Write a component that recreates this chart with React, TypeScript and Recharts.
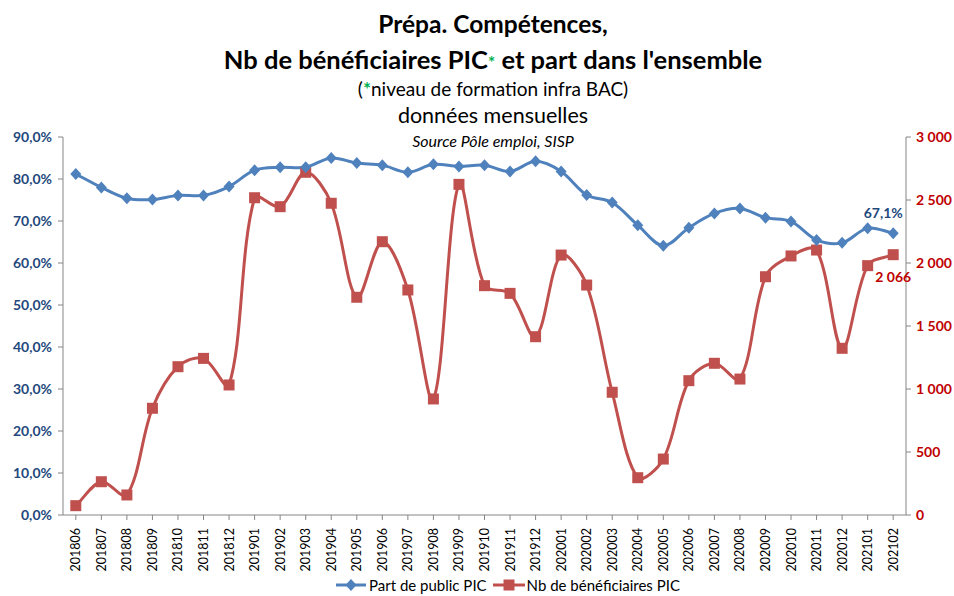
import React from "react";
import { LineChart, Line, XAxis, YAxis } from "recharts";

const months = [
  "201806", "201807", "201808", "201809", "201810", "201811", "201812",
  "201901", "201902", "201903", "201904", "201905", "201906", "201907", "201908", "201909", "201910", "201911", "201912",
  "202001", "202002", "202003", "202004", "202005", "202006", "202007", "202008", "202009", "202010", "202011", "202012",
  "202101", "202102",
];

// part de public PIC, en %
const partPublic = [
  81.2, 78.0, 75.4, 75.1, 76.1, 76.1, 78.2,
  82.1, 82.8, 82.8, 85.0, 83.8, 83.3, 81.6, 83.5, 83.0, 83.3, 81.8, 84.2,
  81.8, 76.2, 74.4, 69.0, 64.1, 68.4, 71.8, 73.0, 70.8, 69.9, 65.5, 64.8,
  68.3, 67.1,
];

// nb de bénéficiaires PIC
const nbBenef = [
  74, 264, 159, 847, 1177, 1243, 1032,
  2518, 2447, 2720, 2474, 1728, 2169, 1786, 921, 2624, 1820, 1759, 1415,
  2063, 1825, 974, 296, 444, 1066, 1204, 1079, 1891, 2056, 2103, 1323,
  1979, 2066,
];

const leftTicks = [0, 0.1, 0.2, 0.3, 0.4, 0.5, 0.6, 0.7, 0.8, 0.9];
const rightTicks = [0, 500, 1000, 1500, 2000, 2500, 3000];

const data = months.map((m, i) => ({ month: m, part: partPublic[i] / 100, nb: nbBenef[i] }));

const BLUE = "#4F81BD";
const RED = "#C0504D";
const FONT = "Lato, 'Noto Sans', sans-serif";

// lissage façon Excel : bezier, tangentes pondérées par la longueur des segments
const excelSmooth = (context: any) => {
  let pts: number[][] = [];
  const dist = (a: number[], b: number[]) => Math.hypot(b[0] - a[0], b[1] - a[1]);
  return {
    areaStart() {},
    areaEnd() {},
    lineStart() {
      pts = [];
    },
    point(x: number, y: number) {
      pts.push([+x, +y]);
    },
    lineEnd() {
      if (!pts.length) return;
      context.moveTo(pts[0][0], pts[0][1]);
      for (let i = 0; i < pts.length - 1; i++) {
        const p0 = pts[Math.max(i - 1, 0)];
        const p1 = pts[i];
        const p2 = pts[i + 1];
        const p3 = pts[Math.min(i + 2, pts.length - 1)];
        const d01 = dist(p0, p1);
        const d12 = dist(p1, p2);
        const d23 = dist(p2, p3);
        const f1 = d01 + d12 > 0 ? d12 / (d01 + d12) / 3 : 0;
        const f2 = d12 + d23 > 0 ? d12 / (d12 + d23) / 3 : 0;
        context.bezierCurveTo(
          p1[0] + (p2[0] - p0[0]) * f1,
          p1[1] + (p2[1] - p0[1]) * f1,
          p2[0] - (p3[0] - p1[0]) * f2,
          p2[1] - (p3[1] - p1[1]) * f2,
          p2[0],
          p2[1]
        );
      }
    },
  };
};

const fmtPct = (v: number) => (v * 100).toFixed(1).replace(".", ",") + "%";
const fmtNb = (v: number) => String(v).replace(/\B(?=(\d{3})+(?!\d))/g, " ");

const Diamond = (props: any) => {
  const { cx, cy, index } = props;
  if (cx == null || cy == null) return null;
  return (
    <polygon
      key={`d-${index}`}
      points={`${cx},${cy - 6} ${cx + 5.5},${cy} ${cx},${cy + 6} ${cx - 5.5},${cy}`}
      fill={BLUE}
    />
  );
};

const Square = (props: any) => {
  const { cx, cy, index } = props;
  if (cx == null || cy == null) return null;
  return <rect key={`s-${index}`} x={cx - 5.5} y={cy - 5.5} width={11} height={11} fill={RED} />;
};

const MonthTick = (props: any) => {
  const { x, y, payload } = props;
  return (
    <g transform={`translate(${x},${y})`}>
      <text x={-6} y={0} dy={4.5} textAnchor="end" transform="rotate(-90)" fontSize={12.5} fill="#000" fontFamily={FONT}>
        {payload.value}
      </text>
    </g>
  );
};

const lastIdx = months.length - 1;

const partLabel = (props: any) => {
  const { x, y, index } = props;
  if (index !== lastIdx) return null;
  return (
    <text key="lp" x={x - 10} y={y - 15} textAnchor="middle" fontSize={14} fontWeight="bold" fill="#1F497D" fontFamily={FONT}>
      {fmtPct(partPublic[index] / 100)}
    </text>
  );
};

const nbLabel = (props: any) => {
  const { x, y, index } = props;
  if (index !== lastIdx) return null;
  return (
    <text key="ln" x={x} y={y + 27} textAnchor="middle" fontSize={14} fontWeight="bold" fill="#C00000" fontFamily={FONT}>
      {fmtNb(nbBenef[index])}
    </text>
  );
};

const titleLine = (text: React.ReactNode, top: number, size: number, extra: any = {}) => (
  <div
    style={{
      position: "absolute",
      left: 0,
      width: 986,
      top,
      textAlign: "center",
      whiteSpace: "nowrap",
      fontSize: size,
      lineHeight: `${size + 4}px`,
      color: "#000",
      fontFamily: FONT,
      ...extra,
    }}
  >
    {text}
  </div>
);

export default function App() {
  return (
    <div style={{ position: "absolute", left: 0, top: 0, width: 954, height: 596, background: "#fff", overflow: "hidden" }}>
      {titleLine("Prépa. Compétences,", 10, 24.5, { fontWeight: "bold" })}
      {titleLine(<>Nb de bénéficiaires PIC<span style={{ color: "#00B050", fontSize: 17 }}>*</span> et part dans l'ensemble</>, 45, 25.5, { fontWeight: "bold" })}
      {titleLine(<>(<span style={{ color: "#00B050", fontWeight: "bold" }}>*</span>niveau de formation infra BAC)</>, 77, 19)}
      {titleLine("données mensuelles", 103, 21.5)}
      {titleLine("Source Pôle emploi, SISP", 131, 16, { fontStyle: "italic" })}

      <div style={{ position: "absolute", left: 0, top: 0 }}>
        <LineChart width={954} height={596} data={data} margin={{ top: 137, right: 0, left: 0, bottom: 19 }}>
          <XAxis
            dataKey="month"
            interval={0}
            height={62}
            padding={{ left: 12.8, right: 12.8 }}
            tick={<MonthTick />}
            stroke="#868686"
            tickSize={5}
          />
          <YAxis
            yAxisId="left"
            domain={[0, 0.9]}
            ticks={leftTicks}
            width={63}
            tickFormatter={fmtPct}
            stroke="#868686"
            tickSize={5}
            tickMargin={6}
            tick={{ fill: "#1F497D", fontSize: 14, fontWeight: "bold", fontFamily: FONT }}
          />
          <YAxis
            yAxisId="right"
            orientation="right"
            domain={[0, 3000]}
            ticks={rightTicks}
            width={48}
            tickFormatter={fmtNb}
            stroke="#868686"
            tickSize={5}
            tickMargin={5}
            tick={{ fill: "#C00000", fontSize: 14, fontWeight: "bold", fontFamily: FONT, textAnchor: "start" }}
          />
          <Line
            yAxisId="right"
            dataKey="nb"
            type={excelSmooth as any}
            stroke={RED}
            strokeWidth={3}
            dot={<Square />}
            activeDot={false}
            label={nbLabel}
            isAnimationActive={false}
          />
          <Line
            yAxisId="left"
            dataKey="part"
            type={excelSmooth as any}
            stroke={BLUE}
            strokeWidth={3}
            dot={<Diamond />}
            activeDot={false}
            label={partLabel}
            isAnimationActive={false}
          />
        </LineChart>
      </div>

      <div
        style={{
          position: "absolute",
          left: 336,
          top: 576,
          display: "flex",
          alignItems: "center",
          fontSize: 15,
          lineHeight: "18px",
          fontFamily: FONT,
          color: "#000",
          whiteSpace: "nowrap",
        }}
      >
        <svg width={30} height={14}>
          <line x1={0} y1={7} x2={30} y2={7} stroke={BLUE} strokeWidth={3} />
          <polygon points="15,1 20.5,7 15,13 9.5,7" fill={BLUE} />
        </svg>
        <span style={{ marginLeft: 3 }}>Part de public PIC</span>
        <svg width={32} height={14} style={{ marginLeft: 6 }}>
          <line x1={0} y1={7} x2={32} y2={7} stroke={RED} strokeWidth={3} />
          <rect x={10.5} y={1.5} width={11} height={11} fill={RED} />
        </svg>
        <span style={{ marginLeft: 2 }}>Nb de bénéficiaires PIC</span>
      </div>
    </div>
  );
}
